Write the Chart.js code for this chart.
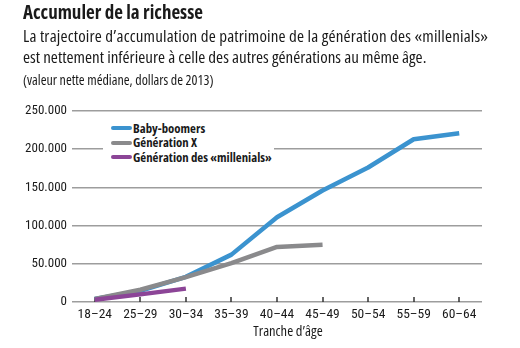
<!DOCTYPE html>
<html lang="fr">
<head>
<meta charset="UTF-8">
<title>Accumuler de la richesse</title>
<script src="https://cdn.jsdelivr.net/npm/chart.js"></script>
<style>
  body { margin: 0; background: #fff; }
  #wrap { position: relative; width: 520px; height: 348px; overflow: hidden;
          font-family: "Open Sans", sans-serif; font-stretch: 75%; color: #1a1a1a; }
  #chart { position: absolute; left: 0; top: 0; }
  .txt { position: absolute; left: 23px; white-space: nowrap; }
  #title { top: -1px; font-size: 19px; font-weight: bold; }
  #sub { top: 24.5px; font-size: 17px; line-height: 21.5px; }
  #sub .l1 { letter-spacing: 0.17px; }
  #note { top: 69.5px; font-size: 14px; }
  #xtitle { position: absolute; top: 321px; left: 288px; transform: translateX(-50%); font-size: 14.5px; white-space: nowrap; }
  #legend { position: absolute; left: 103px; top: 118px; width: 171px; height: 48px; background: #fff; }
  .item { position: absolute; left: 30px; font-size: 12.8px; font-weight: bold; white-space: nowrap; line-height: 17px; }
  .sw { position: absolute; left: 8px; width: 21px; height: 4px; border-radius: 2px; }
</style>
</head>
<body>
<div id="wrap">
  <canvas id="chart" width="520" height="348"></canvas>
  <div class="txt" id="title">Accumuler de la richesse</div>
  <div class="txt" id="sub"><span class="l1">La trajectoire d’accumulation de patrimoine de la génération des «millenials»</span><br>est nettement inférieure à celle des autres générations au même âge.</div>
  <div class="txt" id="note">(valeur nette médiane, dollars de 2013)</div>
  <div id="legend"></div>
  <div id="xtitle">Tranche d’âge</div>
</div>
<script>
// age brackets and median net worth (2013 dollars)
const ageGroups = ['18–24', '25–29', '30–34', '35–39', '40–44', '45–49', '50–54', '55–59', '60–64'];
const babyBoomers = [4000, 14500, 33000, 62000, 111000, 146000, 176000, 213000, 221000];
const genX = [4000, 16000, 32500, 51000, 72000, 75000, null, null, null];
const millennials = [3000, 10000, 17500, null, null, null, null, null, null];
const seriesNames = ['Baby-boomers', 'Génération X', 'Génération des «millenials»'];
const seriesColors = ['#3b93cf', '#8a8a8c', '#8c4597'];
const yTicks = [0, 50000, 100000, 150000, 200000, 250000];

const condensed = '"Roboto Condensed", "DejaVu Sans Condensed", sans-serif';

// legend box sits inside the plot, over the 200.000 gridline
const legend = document.getElementById('legend');
seriesNames.forEach((name, i) => {
  const sw = document.createElement('div');
  sw.className = 'sw';
  sw.style.top = (8 + i * 14.5) + 'px';
  sw.style.background = seriesColors[i];
  legend.appendChild(sw);
  const t = document.createElement('div');
  t.className = 'item';
  t.style.top = (1.5 + i * 14.5) + 'px';
  t.textContent = name;
  legend.appendChild(t);
});

// small tick marks rising from the baseline at each age bracket
const tickMarks = {
  id: 'tickMarks',
  beforeDatasetsDraw(chart) {
    const x = chart.scales.x, y = chart.scales.y;
    const ctx = chart.ctx;
    const base = y.getPixelForValue(0);
    ctx.save();
    ctx.strokeStyle = '#333';
    ctx.lineWidth = 1.5;
    ageGroups.forEach((g, i) => {
      const px = Math.round(x.getPixelForValue(i));
      ctx.beginPath();
      ctx.moveTo(px, base);
      ctx.lineTo(px, base - 5);
      ctx.stroke();
    });
    ctx.restore();
  }
};

const ds = [babyBoomers, genX, millennials].map((data, i) => ({
  label: seriesNames[i],
  data: data,
  borderColor: seriesColors[i],
  backgroundColor: seriesColors[i],
  borderWidth: 4.5,
  pointRadius: 0,
  tension: 0,
  borderJoinStyle: 'round',
  spanGaps: false
})).reverse();

new Chart(document.getElementById('chart'), {
  type: 'line',
  data: { labels: ageGroups, datasets: ds },
  options: {
    responsive: false,
    animation: false,
    layout: { padding: { top: 111, right: 38, bottom: 0, left: 0 } },
    plugins: { legend: { display: false }, tooltip: { enabled: false } },
    scales: {
      x: {
        offset: true,
        grid: { display: false },
        border: { display: false },
        ticks: { color: '#1a1a1a', padding: -3, maxRotation: 0, font: { family: condensed, size: 13.5 } },
        afterFit(s) { s.height = 46; }
      },
      y: {
        min: 0, max: 250000,
        afterBuildTicks(s) { s.ticks = yTicks.map(v => ({ value: v })); },
        grid: { color: '#9d9d9d', lineWidth: 1.6, drawTicks: false },
        border: { display: false },
        ticks: { color: '#1a1a1a', padding: 5, font: { family: condensed, size: 13 },
                 callback: v => v === 0 ? '0' : v.toLocaleString('de-DE') },
        afterFit(s) { s.width = 72; }
      }
    }
  },
  plugins: [tickMarks]
});
</script>
</body>
</html>
